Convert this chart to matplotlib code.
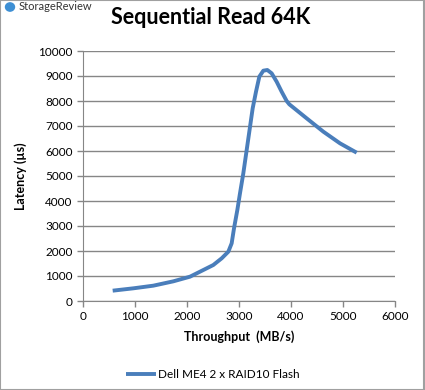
import numpy as np
import matplotlib
matplotlib.use("Agg")
import matplotlib.pyplot as plt
from matplotlib.patches import Rectangle, Circle

# values
throughput = [571, 968, 1352, 1737, 2058, 2250, 2506, 2667, 2795, 2859, 2904, 2968, 3019,
              3083, 3180, 3263, 3327, 3391, 3468, 3545, 3628, 3724, 3820, 3917, 3968,
              4301, 4622, 4942, 5263]
latency = [413, 507, 613, 787, 973, 1173, 1440, 1707, 1973, 2307, 2907, 3640, 4307,
           5107, 6507, 7707, 8373, 8973, 9213, 9240, 9107, 8773, 8373, 8000, 7867,
           7307, 6773, 6307, 5933]
series_name = "Dell ME4 2 x RAID10 Flash"
xticks = [0, 1000, 2000, 3000, 4000, 5000, 6000]
yticks = list(range(0, 10001, 1000))

plt.rcParams['font.family'] = ['Lato', 'DejaVu Sans']

fig = plt.figure(figsize=(4.25, 3.9), dpi=100)
ax = fig.add_axes([83/425, 1 - 301/390, 312/425, 250/390])

ax.plot(throughput, latency, color='#4a7ebb', lw=2.8, solid_capstyle='butt',
        solid_joinstyle='round', label=series_name)

ax.set_xlim(0, 6000)
ax.set_ylim(0, 10000)
ax.set_xticks(xticks)
ax.set_yticks(yticks)
ax.tick_params(axis='both', labelsize=8.5, colors='#868686', labelcolor='black',
               length=4, width=1, direction='out')
ax.grid(axis='y', color='#868686', lw=1)
ax.set_axisbelow(True)
for s in ['top', 'right']:
    ax.spines[s].set_visible(False)
for s in ['left', 'bottom']:
    ax.spines[s].set_color('#868686')

ax.set_xlabel("Throughput  (MB/s)", fontsize=9, fontweight='bold', labelpad=6)
ax.set_ylabel("Latency (µs)", fontsize=9, fontweight='bold', labelpad=8)

fig.text(211/425, 1 - 18/390, "Sequential Read 64K", fontsize=15.5, fontweight='bold',
         ha='center', va='center')

# logo
fig.patches.append(Circle((10/425, 1 - 7/390), 4.5/425, transform=fig.transFigure,
                          color='#3d8fd4'))
fig.text(19/425, 1 - 7/390, "StorageReview", fontsize=8, color='#333333',
         ha='left', va='center')

# legend
fig.legend(loc='center', bbox_to_anchor=(213/425, 1 - 375/390), frameon=False,
           fontsize=8.5, handlelength=2.5, handletextpad=0.2)

# frame
fig.patches.append(Rectangle((0, 0), 1 - 1/425, 1, transform=fig.transFigure,
                             fill=False, edgecolor='#a0a0a0', lw=1.5))

fig.savefig("out.png", dpi=100)
